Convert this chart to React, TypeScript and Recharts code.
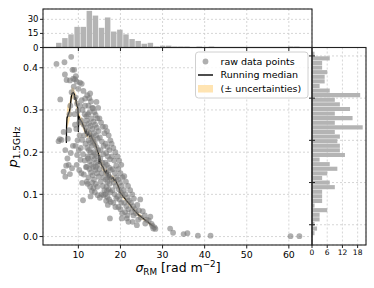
import { ComposedChart, BarChart, Bar, Scatter, Line, Area, XAxis, YAxis, CartesianGrid } from 'recharts'

const FONT = 'DejaVu Sans'
const INK = '#222'
const GRID = '#cbcbcb'

// sigma_RM [rad m^-2] vs p_1.5GHz
const RAW_POINTS: [number, number][] = [
  [4.8, 0.409], [5.3, 0.226], [5.7, 0.325], [6.0, 0.229], [5.6, 0.231],
  [6.7, 0.413], [6.5, 0.248], [6.5, 0.154], [6.9, 0.142], [6.8, 0.384], [7.2, 0.371], [7.1, 0.168], [7.4, 0.185], [6.9, 0.205], [7.5, 0.232],
  [8.3, 0.426], [8.0, 0.37], [8.8, 0.374], [7.7, 0.17], [7.9, 0.29], [8.1, 0.31], [8.4, 0.342], [8.6, 0.395], [7.8, 0.252], [8.2, 0.198], [8.7, 0.215], [8.9, 0.355], [8.5, 0.162], [8.0, 0.148],
  [9.0, 0.395], [9.2, 0.373], [9.6, 0.367], [9.4, 0.38], [10.0, 0.35], [10.4, 0.365], [9.3, 0.33], [9.7, 0.315], [9.1, 0.29], [9.9, 0.298], [10.2, 0.27],
  [9.5, 0.255], [10.3, 0.24], [9.8, 0.228], [9.3, 0.215], [10.1, 0.205], [9.7, 0.193], [10.5, 0.182], [9.6, 0.17], [10.2, 0.158], [9.2, 0.265], [10.4, 0.31],
  [10.8, 0.362], [10.8, 0.323], [11.6, 0.327], [11.2, 0.345], [11.0, 0.3], [11.5, 0.29], [10.7, 0.275], [11.3, 0.265], [11.8, 0.258], [10.9, 0.229], [11.4, 0.24],
  [11.7, 0.22], [10.6, 0.21], [11.1, 0.195], [11.5, 0.18], [10.9, 0.127], [11.1, 0.086], [11.3, 0.147], [11.8, 0.165], [10.7, 0.15], [11.6, 0.31], [11.9, 0.285],
  [12.2, 0.125], [12.0, 0.13], [12.4, 0.31], [12.8, 0.339], [12.1, 0.335], [12.6, 0.328], [13.0, 0.32], [13.3, 0.305], [12.3, 0.29], [12.7, 0.295], [13.1, 0.28],
  [12.0, 0.275], [12.5, 0.268], [12.9, 0.262], [13.3, 0.255], [12.2, 0.25], [12.6, 0.245], [13.0, 0.238], [13.4, 0.232], [12.4, 0.228], [12.8, 0.222], [13.2, 0.215],
  [12.1, 0.21], [12.5, 0.205], [12.9, 0.2], [13.3, 0.19], [12.3, 0.185], [12.7, 0.178], [13.1, 0.17], [12.0, 0.165], [12.6, 0.16], [13.0, 0.152], [13.4, 0.145],
  [12.4, 0.14], [12.8, 0.118], [13.2, 0.108], [12.9, 0.095], [13.3, 0.128], [12.2, 0.19],
  [13.5, 0.304], [14.3, 0.319], [14.7, 0.305], [13.8, 0.295], [14.1, 0.288], [14.5, 0.28], [13.6, 0.272], [14.0, 0.265], [14.4, 0.258], [14.8, 0.25], [13.7, 0.245],
  [14.2, 0.24], [14.6, 0.232], [13.5, 0.226], [13.9, 0.22], [14.3, 0.212], [14.7, 0.205], [13.6, 0.2], [14.0, 0.195], [14.5, 0.19], [13.8, 0.183], [14.2, 0.176],
  [14.6, 0.17], [13.5, 0.165], [14.0, 0.158], [14.4, 0.15], [14.8, 0.142], [13.7, 0.135], [14.1, 0.125], [14.5, 0.118], [13.9, 0.105], [14.6, 0.098], [14.2, 0.165], [13.6, 0.115],
  [15.0, 0.28], [15.4, 0.27], [15.8, 0.26], [16.2, 0.245], [15.1, 0.235], [15.6, 0.225], [16.0, 0.215], [15.3, 0.205], [15.9, 0.195], [15.2, 0.185], [15.7, 0.175],
  [16.1, 0.165], [15.0, 0.16], [15.5, 0.15], [16.0, 0.14], [15.3, 0.13], [15.8, 0.12], [16.2, 0.11], [15.5, 0.1], [15.1, 0.092], [16.0, 0.098],
  [16.4, 0.26], [16.8, 0.25], [17.2, 0.24], [17.6, 0.228], [16.5, 0.22], [16.9, 0.212], [17.4, 0.205], [16.6, 0.198], [17.0, 0.19], [17.5, 0.183], [16.4, 0.175],
  [16.8, 0.17], [17.3, 0.163], [17.7, 0.158], [16.6, 0.152], [17.1, 0.147], [17.5, 0.14], [16.5, 0.135], [16.9, 0.13], [17.4, 0.125], [16.7, 0.118], [17.2, 0.112],
  [17.6, 0.105], [16.4, 0.1], [16.9, 0.094], [17.3, 0.088], [17.7, 0.082], [17.0, 0.075], [17.5, 0.043], [16.6, 0.085], [17.2, 0.142], [16.8, 0.108],
  [17.9, 0.22], [18.3, 0.21], [18.8, 0.2], [18.0, 0.19], [18.5, 0.18], [19.0, 0.168], [18.2, 0.16], [18.7, 0.15], [19.1, 0.14], [17.9, 0.135], [18.4, 0.128],
  [18.9, 0.12], [18.1, 0.11], [18.6, 0.1], [19.0, 0.09], [18.3, 0.08], [18.8, 0.07],
  [19.3, 0.19], [19.7, 0.18], [20.2, 0.17], [19.5, 0.16], [20.0, 0.15], [20.5, 0.14], [19.4, 0.135], [19.9, 0.128], [20.3, 0.12], [19.6, 0.112], [20.1, 0.105],
  [20.5, 0.098], [19.3, 0.095], [19.8, 0.088], [20.2, 0.08], [19.5, 0.07], [20.0, 0.065], [20.4, 0.055], [20.3, 0.043],
  [20.9, 0.143], [21.3, 0.13], [21.8, 0.12], [20.8, 0.11], [21.2, 0.1], [21.7, 0.092], [22.0, 0.085], [20.9, 0.08], [21.4, 0.072], [21.9, 0.065], [21.1, 0.058],
  [21.5, 0.043], [21.9, 0.035], [21.6, 0.05],
  [22.3, 0.11], [22.8, 0.1], [23.2, 0.09], [22.5, 0.08], [23.0, 0.072], [23.4, 0.065], [22.6, 0.058], [23.1, 0.05], [22.9, 0.035],
  [23.9, 0.027], [24.7, 0.088], [24.0, 0.075], [24.4, 0.062], [23.7, 0.055], [24.8, 0.045], [24.2, 0.04],
  [25.9, 0.031], [25.3, 0.06], [25.8, 0.05], [26.2, 0.04],
  [27.1, 0.047], [27.8, 0.019], [26.7, 0.038], [27.4, 0.03], [27.6, 0.025], [28.1, 0.022], [28.3, 0.018],
  [31.8, 0.019], [32.5, 0.009], [35.0, 0.006], [35.9, 0.008], [38.4, 0.002], [41.4, 0.002], [60.4, 0.001], [62.5, 0.001],
]

const MEDIAN_X = [
  7.15, 7.2, 7.3, 7.6, 7.9, 8.1, 8.3, 8.5, 8.8, 9.05, 9.2, 9.4, 9.5, 9.7, 9.9, 10.0, 10.1, 10.3, 10.6, 10.9,
  11.2, 11.5, 11.7, 11.9, 12.1, 12.4, 12.7, 13.0, 13.3, 13.6, 14.0, 14.3, 14.6, 14.8, 14.9, 15.0, 15.3, 15.6, 15.9, 16.2,
  16.5, 16.7, 16.9, 17.1, 17.3, 17.6, 17.9, 18.2, 18.5, 18.8, 19.1, 19.4, 19.7, 19.9, 20.3, 20.7, 21.1, 21.5, 21.9, 22.4,
  22.8, 23.2, 23.7, 24.2, 24.6, 25.1, 25.5, 26.0, 26.5, 27.0, 27.5, 28.0, 28.3,
]
const MEDIAN_Y = [
  0.222, 0.262, 0.281, 0.29, 0.297, 0.31, 0.33, 0.339, 0.341, 0.337, 0.324, 0.33, 0.316, 0.31, 0.304, 0.248, 0.286, 0.279, 0.274, 0.27,
  0.261, 0.255, 0.244, 0.25, 0.24, 0.246, 0.237, 0.24, 0.232, 0.226, 0.22, 0.211, 0.201, 0.197, 0.172, 0.193, 0.176, 0.168, 0.164, 0.155,
  0.151, 0.158, 0.144, 0.149, 0.139, 0.143, 0.137, 0.14, 0.133, 0.135, 0.127, 0.121, 0.114, 0.104, 0.1, 0.094, 0.09, 0.084, 0.08, 0.074,
  0.068, 0.063, 0.058, 0.052, 0.049, 0.045, 0.042, 0.038, 0.035, 0.03, 0.027, 0.023, 0.021,
]
const MEDIAN_ERR = [
  0.012, 0.02, 0.025, 0.025, 0.022, 0.02, 0.018, 0.015, 0.012, 0.012, 0.014, 0.014, 0.013, 0.012, 0.012, 0.015, 0.014, 0.012, 0.01, 0.01,
  0.01, 0.009, 0.009, 0.009, 0.008, 0.008, 0.008, 0.008, 0.008, 0.009, 0.009, 0.01, 0.01, 0.011, 0.012, 0.012, 0.011, 0.01, 0.009, 0.008,
  0.008, 0.008, 0.007, 0.007, 0.007, 0.007, 0.006, 0.006, 0.006, 0.006, 0.006, 0.006, 0.007, 0.007, 0.006, 0.006, 0.005, 0.005, 0.005, 0.005,
  0.005, 0.005, 0.005, 0.005, 0.005, 0.005, 0.004, 0.004, 0.004, 0.004, 0.004, 0.004, 0.004,
]

// top histogram (sigma_RM), bin centres and counts
const TOP_BINS = [
  5.43, 6.88, 8.33, 9.78, 11.23, 12.68, 14.13, 15.58, 17.03, 18.48, 19.93, 21.38, 22.83, 24.28, 25.73, 27.18, 28.63, 30.08, 31.53, 32.98,
  34.43, 35.88, 37.33, 38.78, 40.23, 41.68, 43.13, 44.58, 46.03, 47.48, 48.93, 50.38, 51.83, 53.28, 54.73, 56.18, 57.63, 59.08, 60.53, 61.98,
]
const TOP_COUNTS = [
  5, 10, 14, 22, 22, 39, 34, 21, 32, 17, 19, 14, 9, 7, 4, 5, 1, 2, 2, 1,
  1, 1, 0, 1, 0, 1, 0, 0, 0, 0, 0, 0, 0, 0, 0, 0, 0, 0, 1, 1,
]

// side histogram (p_1.5GHz), from top to bottom
const SIDE_BINS = [
  0.4205, 0.4096, 0.3987, 0.3878, 0.3769, 0.366, 0.3551, 0.3442, 0.3333, 0.3224, 0.3115, 0.3006, 0.2897, 0.2788, 0.2679, 0.257, 0.2461, 0.2352, 0.2243, 0.2134,
  0.2025, 0.1916, 0.1807, 0.1698, 0.1589, 0.148, 0.1371, 0.1262, 0.1153, 0.1044, 0.0935, 0.0826, 0.0717, 0.0608, 0.0499, 0.039, 0.0281, 0.0172, 0.0063, -0.0046,
]
const SIDE_COUNTS = [
  1, 2, 1, 3, 3, 6, 1, 4, 4, 4, 9, 7, 4, 6, 10, 7, 3, 13, 11, 11,
  10, 11, 9, 20, 9, 16, 9, 15, 11, 9, 19, 7, 3, 5, 5, 6, 4, 4, 7, 1,
]

const X_TICKS = [10, 20, 30, 40, 50, 60]
const Y_TICKS = [0, 0.1, 0.2, 0.3, 0.4]
const TOP_TICKS = [0, 15, 30]
const SIDE_TICKS = [0, 6, 12, 18]

const X_DOMAIN: [number, number] = [1.6, 65.5]
const Y_DOMAIN: [number, number] = [-0.02, 0.448]

const W = 374
const H = 288
const L = 43
const R = 312
const T = 47.5
const B = 245
const TOP_EDGE = 9
const SIDE_EDGE = 366

const scatterData = RAW_POINTS.map(([x, y]) => ({ x, y }))
const medianData = MEDIAN_X.map((x, i) => ({ x, y: MEDIAN_Y[i] }))
const bandData = MEDIAN_X.map((x, i) => ({ x, band: [MEDIAN_Y[i] - MEDIAN_ERR[i], MEDIAN_Y[i] + MEDIAN_ERR[i]] }))
const topData = TOP_BINS.map((x, i) => ({ x, count: TOP_COUNTS[i] }))
const sideData = SIDE_BINS.map((y, i) => ({ y, count: SIDE_COUNTS[i] }))

const txt = { fontFamily: FONT, fill: '#000' }

// axes are 1px thick (0 would not render), so tick anchors sit on the plot edge
const mainXTick = ({ x, y, payload }: any) => (
  <g>
    <line x1={x} x2={x} y1={y} y2={y + 3.5} stroke={INK} />
    <text x={x} y={y + 12.5} textAnchor="middle" fontSize={9.4} {...txt}>{payload.value}</text>
  </g>
)
const mainYTick = ({ x, y, payload }: any) => (
  <g>
    <line x1={x - 3.5} x2={x} y1={y} y2={y} stroke={INK} />
    <text x={x - 5} y={y + 3.4} textAnchor="end" fontSize={9.4} {...txt}>{Number(payload.value).toFixed(1)}</text>
  </g>
)
const topXTick = ({ x, y }: any) => <line x1={x} x2={x} y1={y} y2={y + 3.5} stroke={INK} />
const topYTick = ({ x, y, payload }: any) => (
  <g>
    <line x1={x - 3} x2={x} y1={y} y2={y} stroke={INK} />
    <text x={x - 4.5} y={y + 3} textAnchor="end" fontSize={8.5} {...txt}>{payload.value}</text>
  </g>
)
const sideXTick = ({ x, y, payload }: any) => (
  <g>
    <line x1={x} x2={x} y1={y} y2={y + 3} stroke={INK} />
    <text x={x} y={y + 9.5} textAnchor="middle" fontSize={7.5} {...txt}>{payload.value}</text>
  </g>
)
const sideYTick = ({ x, y }: any) => <line x1={x - 3} x2={x + 3} y1={y} y2={y} stroke={INK} />

const layer: React.CSSProperties = { position: 'absolute', left: 0, top: 0 }
const axisBits = { tickSize: 0, tickMargin: 0, axisLine: false, tickLine: false, interval: 0 as const }

export default function App() {
  return (
    <div style={{ position: 'absolute', left: 0, top: 0, width: W, height: H, background: '#fff' }}>
      <div style={layer}>
        <ComposedChart width={W} height={H} margin={{ top: T, right: W - R, bottom: H - B - 1, left: L - 1 }}>
          <CartesianGrid stroke={GRID} strokeDasharray="2 2" strokeWidth={0.8} />
          <XAxis type="number" dataKey="x" domain={X_DOMAIN} ticks={X_TICKS} height={1} tick={mainXTick} {...axisBits} />
          <YAxis type="number" dataKey="y" domain={Y_DOMAIN} ticks={Y_TICKS} width={1} tick={mainYTick} {...axisBits} />
          <Scatter data={scatterData} isAnimationActive={false}
            shape={(p: any) => <circle cx={p.cx} cy={p.cy} r={2.9} fill="#7a7a7a" fillOpacity={0.6} />} />
          <Area data={bandData} dataKey="band" type="linear" stroke="none" fill="#ffa500" fillOpacity={0.3}
            isAnimationActive={false} />
          <Line data={medianData} dataKey="y" type="linear" stroke="#000" strokeWidth={1.3} dot={false}
            isAnimationActive={false} />
        </ComposedChart>
      </div>

      <div style={layer}>
        <BarChart width={W} height={H} data={topData} barCategoryGap={0}
          margin={{ top: TOP_EDGE, right: W - R, bottom: H - T - 1, left: L - 1 }}>
          <CartesianGrid stroke={GRID} strokeDasharray="2 2" strokeWidth={0.8} />
          <XAxis type="number" dataKey="x" domain={X_DOMAIN} ticks={X_TICKS} height={1} tick={topXTick} {...axisBits} />
          <YAxis type="number" domain={[0, 41]} ticks={TOP_TICKS} width={1} tick={topYTick} {...axisBits} />
          <Bar dataKey="count" fill="#b4b4b4" barSize={6.4} isAnimationActive={false} />
        </BarChart>
      </div>

      <div style={layer}>
        <BarChart width={W} height={H} data={sideData} layout="vertical" barCategoryGap={0}
          margin={{ top: T, right: W - SIDE_EDGE, bottom: H - B - 1, left: R - 1 }}>
          <CartesianGrid stroke={GRID} strokeDasharray="2 2" strokeWidth={0.8} />
          <XAxis type="number" domain={[0, 21.3]} ticks={SIDE_TICKS} height={1} tick={sideXTick} {...axisBits} />
          <YAxis type="number" dataKey="y" domain={Y_DOMAIN} ticks={Y_TICKS} width={1} tick={sideYTick} {...axisBits} />
          <Bar dataKey="count" fill="#b4b4b4" barSize={5} isAnimationActive={false} />
        </BarChart>
      </div>

      <svg width={W} height={H} style={{ ...layer, pointerEvents: 'none' }}>
        <g fill="none" stroke={INK} strokeWidth={1.1}>
          <rect x={L} y={T} width={R - L} height={B - T} />
          <rect x={L} y={TOP_EDGE} width={R - L} height={T - TOP_EDGE} />
          <rect x={R} y={T} width={SIDE_EDGE - R} height={B - T} />
        </g>

        <rect x={195.5} y={52} width={112.5} height={46} rx={3} fill="#fff" fillOpacity={0.85} stroke="#d0d0d0" />
        <circle cx={205.5} cy={61.5} r={2.9} fill="#7a7a7a" fillOpacity={0.6} />
        <text x={220.5} y={64.5} fontSize={9.5} {...txt}>raw data points</text>
        <line x1={198} x2={213} y1={75} y2={75} stroke="#000" strokeWidth={1.4} />
        <text x={220.5} y={78} fontSize={9.5} {...txt}>Running median</text>
        <rect x={198} y={85} width={15} height={7.5} fill="#ffe4b2" />
        <text x={220.5} y={91.5} fontSize={9.5} {...txt}>(± uncertainties)</text>

        <text x={178} y={272} textAnchor="middle" fontSize={12.5} {...txt}>
          <tspan fontStyle="italic">σ</tspan>
          <tspan fontSize={8.8} dy={2.5}>RM</tspan>
          <tspan dy={-2.5}> [rad m</tspan>
          <tspan fontSize={8.8} dy={-5}>−2</tspan>
          <tspan dy={5}>]</tspan>
        </text>
        <text x={17} y={147} textAnchor="middle" fontSize={13} transform="rotate(-90 17 147)" {...txt}>
          <tspan fontStyle="italic">p</tspan>
          <tspan fontSize={9} dy={3}>1.5GHz</tspan>
        </text>
      </svg>
    </div>
  )
}
